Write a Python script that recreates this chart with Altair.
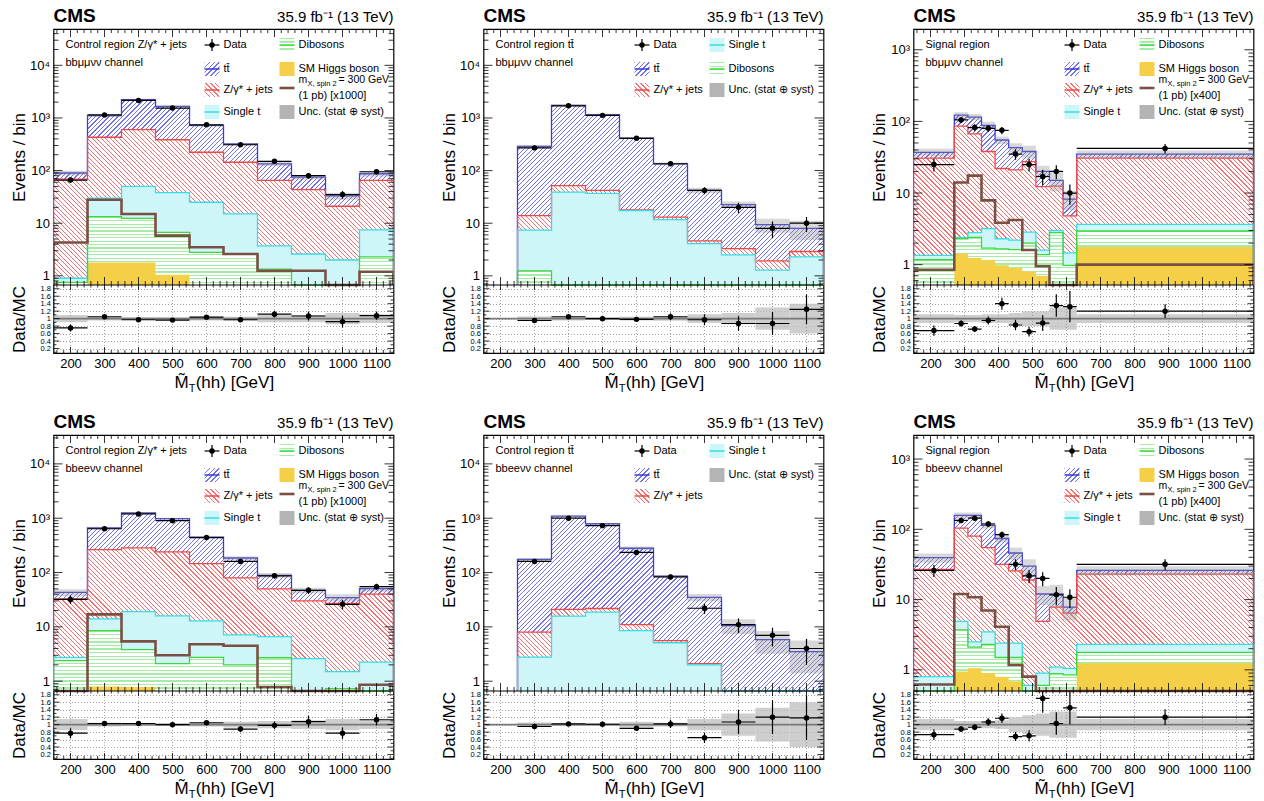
import altair as alt
import pandas as pd
import numpy as np

FONT = "Liberation Sans"
W, MH, RH = 340, 256, 68
H = MH + RH
FLOOR = 1e-4

# ---------------- binning / ticks ----------------
EDGES_CR = [150, 250, 350, 450, 550, 650, 750, 850, 950, 1050, 1150]
EDGES_TT = [250, 350, 450, 550, 650, 750, 850, 950, 1050, 1150]
EDGES_SR = [150, 270, 310, 350, 390, 430, 470, 510, 550, 590, 630, 1150]
X_TICKS = [200, 300, 400, 500, 600, 700, 800, 900, 1000, 1100]
RATIO_TICKS = [0.2, 0.4, 0.6, 0.8, 1.0, 1.2, 1.4, 1.6, 1.8]

# ---------------- panel 1: CR Z/gamma* + jets, bbmumununu (cumulative stack tops) ----------------
p1_tt = [90, 1110, 2230, 1660, 720, 320, 134, 75, 33, 87]
p1_z = [69, 430, 600, 385, 223, 144, 65, 43.6, 21, 65]
p1_st = [0.9, 30, 50, 38, 25, 15, 3.7, 2.6, 2.0, 7.5]
p1_vv = [0.75, 13.3, 12.4, 6.7, 2.8, 2.6, 1.34, 0.5, 0.5, 2.3]
p1_h = [0.3, 1.8, 1.8, 1.05, 0.5, 0.4, 0.3, 0.3, 0.2, 0.3]
p1_sig = [4.3, 28, 15, 5.8, 3.5, 2.6, 1.25, 1.25, 0.3, 1.2]
p1_data = [66, 1140, 2150, 1540, 740, 310, 150, 80, 35, 95]
p1_ratio = [0.75, 1.05, 0.97, 0.96, 1.04, 0.97, 1.12, 1.07, 0.92, 1.08]
p1_unc = [0.10, 0.05, 0.04, 0.04, 0.05, 0.05, 0.10, 0.10, 0.15, 0.12]

# ---------------- panel 2: CR ttbar, bbmumununu ----------------
p2_tt = [288, 1740, 1150, 415, 134, 42, 22.6, 9.4, 8]
p2_z = [14, 52, 42, 18, 13, 4.6, 3.3, 1.93, 2.9]
p2_st = [7.4, 39, 37, 17.4, 11.7, 4.1, 2.5, 1.28, 2.3]
p2_vv = [1.24, 0.4, 0.4, 0.3, 0.3, 0.2, 0.2, 0.2, 0.2]
p2_data = [270, 1700, 1120, 410, 135, 42, 20, 8, 10]
p2_ratio = [0.95, 1.05, 1.0, 0.98, 1.05, 0.97, 0.87, 0.87, 1.25]
p2_unc = [0.06, 0.05, 0.04, 0.05, 0.06, 0.12, 0.15, 0.30, 0.40]

# ---------------- panel 3: SR, bbmumununu ----------------
p3_tt = [37, 122, 115, 88, 55, 43, 38, 20, 15, 8.2, 35]
p3_z = [30.7, 86, 67, 38, 22, 21, 27.5, 12.3, 12.5, 4.8, 30.7]
p3_st = [1.35, 2.4, 2.8, 3.2, 2.3, 2.2, 2.85, 1.6, 3.0, 1.46, 3.65]
p3_vv = [1.17, 2.3, 2.4, 1.7, 1.66, 1.62, 2.0, 1.38, 2.8, 0.98, 2.95]
p3_h = [0.4, 1.43, 1.24, 1.15, 0.98, 0.9, 0.8, 0.7, 0.5, 0.45, 1.77]
p3_sig = [0.85, 14, 17.5, 7.9, 3.85, 4.2, 1.6, 0.95, 0.4, 0.3, 1.0]
p3_data = [25, 105, 82, 80, 75, 35, 25, 17, 20, 10, 42]
p3_ratio = [0.68, 0.87, 0.72, 0.95, 1.4, 0.83, 0.65, 0.88, 1.35, 1.32, 1.2]
p3_unc = [0.12, 0.10, 0.10, 0.12, 0.12, 0.15, 0.20, 0.20, 0.30, 0.30, 0.12]

# ---------------- panel 4: CR Z/gamma* + jets, bbeenunu ----------------
p4_tt = [43, 660, 1250, 980, 450, 185, 89, 47, 34.5, 50.6]
p4_z = [32.6, 265, 285, 240, 146, 80, 50, 30, 27, 40]
p4_st = [2.75, 14, 19, 15.9, 12.9, 7.1, 6.6, 2.6, 1.5, 2.25]
p4_vv = [2.4, 8.5, 3.8, 2.1, 2.75, 2.0, 2.7, 0.5, 0.73, 0.6]
p4_h = [0.3, 0.8, 0.78, 0.5, 0.4, 0.3, 0.3, 0.2, 0.2, 0.2]
p4_sig = [0.3, 17, 5.4, 3.0, 4.8, 4.5, 0.78, 0.3, 0.3, 0.86]
p4_data = [32, 640, 1200, 900, 440, 160, 87, 47, 26, 55]
p4_ratio = [0.77, 1.03, 1.03, 1.0, 1.05, 0.88, 0.98, 1.08, 0.77, 1.13]
p4_unc = [0.15, 0.05, 0.04, 0.04, 0.05, 0.08, 0.10, 0.12, 0.15, 0.12]

# ---------------- panel 5: CR ttbar, bbeenunu ----------------
p5_tt = [174, 1090, 790, 280, 86, 35, 10.6, 5.8, 3.5]
p5_z = [8, 21, 21.8, 11, 5.6, 2.1, 0.5, 0.4, 0.3]
p5_st = [2.77, 15.7, 18.6, 8.5, 5.1, 2.0, 0.5, 0.4, 0.3]
p5_data = [160, 1000, 730, 235, 83, 22, 11, 7, 4]
p5_ratio = [0.95, 1.02, 1.01, 0.9, 1.02, 0.65, 1.07, 1.2, 1.18]
p5_unc = [0.06, 0.03, 0.03, 0.08, 0.05, 0.15, 0.30, 0.45, 0.60]

# ---------------- panel 6: SR, bbeenunu ----------------
p6_tt = [39.5, 158, 158, 114, 74, 46, 30, 12, 12, 7.8, 26]
p6_z = [27, 104, 80, 55, 31.7, 25.7, 19, 4.9, 7.8, 6.4, 23]
p6_st = [0.8, 4.9, 2.5, 3.46, 2.4, 2.4, 0.6, 0.9, 1.09, 1.05, 2.3]
p6_vv = [0.45, 3.7, 2.1, 2.3, 1.5, 1.5, 0.45, 0.6, 0.88, 0.85, 1.77]
p6_h = [0.3, 0.95, 1.05, 0.9, 0.8, 0.69, 0.5, 0.35, 0.3, 0.3, 1.24]
p6_sig = [0.62, 12, 10.8, 7, 4.1, 1.17, 0.8, 0.4, 0.3, 0.3, 0.3]
p6_data = [26, 134, 144, 119, 84, 31.8, 21.8, 20, 11.7, 10.8, 31.8]
p6_ratio = [0.73, 0.88, 0.93, 1.07, 1.17, 0.68, 0.7, 1.7, 1.03, 1.45, 1.2]
p6_unc = [0.15, 0.10, 0.10, 0.10, 0.12, 0.20, 0.25, 0.30, 0.35, 0.35, 0.15]

# ---------------- styles ----------------
HATCH = {"tt": ("fwd", "#7272ea", 0.26), "z": ("bwd", "#f27474", 0.26), "vv": ("horiz", "#a6eca6", 0.35)}
FLAT = {"st": "#cef5f7", "h": "#f6cf48"}
LINE = {"tt": "#3a3ad8", "z": "#f04848", "st": "#35dde6", "vv": "#3cd83c"}
SIG = "#7a5044"
LBL = {"tt": "t\u0074\u0304", "z": "Z/\u03b3* + jets", "st": "Single t", "vv": "Dibosons",
       "h": "SM Higgs boson", "unc": "Unc. (stat \u2295 syst)"}

PANELS = [
    dict(edges=EDGES_CR, ydom=[0.67, 49000], yticks=[1, 10, 100, 1000, 10000],
         tt=p1_tt, z=p1_z, st=p1_st, vv=p1_vv, h=p1_h, sig=p1_sig, data=p1_data, ratio=p1_ratio, unc=p1_unc,
         region=["Control region Z/\u03b3* + jets", "bb\u03bc\u03bc\u03bd\u03bd channel"], legend="full", sigscale="1000"),
    dict(edges=EDGES_TT, ydom=[0.67, 49000], yticks=[1, 10, 100, 1000, 10000],
         tt=p2_tt, z=p2_z, st=p2_st, vv=p2_vv, data=p2_data, ratio=p2_ratio, unc=p2_unc,
         region=["Control region t\u0074\u0304", "bb\u03bc\u03bc\u03bd\u03bd channel"], legend="ttmm"),
    dict(edges=EDGES_SR, ydom=[0.52, 1950], yticks=[1, 10, 100, 1000],
         tt=p3_tt, z=p3_z, st=p3_st, vv=p3_vv, h=p3_h, sig=p3_sig, data=p3_data, ratio=p3_ratio, unc=p3_unc,
         region=["Signal region", "bb\u03bc\u03bc\u03bd\u03bd channel"], legend="full", sigscale="400"),
    dict(edges=EDGES_CR, ydom=[0.66, 34000], yticks=[1, 10, 100, 1000, 10000],
         tt=p4_tt, z=p4_z, st=p4_st, vv=p4_vv, h=p4_h, sig=p4_sig, data=p4_data, ratio=p4_ratio, unc=p4_unc,
         region=["Control region Z/\u03b3* + jets", "bbee\u03bd\u03bd channel"], legend="full", sigscale="1000"),
    dict(edges=EDGES_TT, ydom=[0.66, 34000], yticks=[1, 10, 100, 1000, 10000],
         tt=p5_tt, z=p5_z, st=p5_st, data=p5_data, ratio=p5_ratio, unc=p5_unc,
         region=["Control region t\u0074\u0304", "bbee\u03bd\u03bd channel"], legend="ttee"),
    dict(edges=EDGES_SR, ydom=[0.5, 2200], yticks=[1, 10, 100, 1000],
         tt=p6_tt, z=p6_z, st=p6_st, vv=p6_vv, h=p6_h, sig=p6_sig, data=p6_data, ratio=p6_ratio, unc=p6_unc,
         region=["Signal region", "bbee\u03bd\u03bd channel"], legend="full", sigscale="400"),
]

LEGENDS = {
    "full": [(1, 16, "data"), (1, 40, "tt"), (1, 61, "z"), (1, 83, "st"),
             (2, 16, "vv"), (2, 40, "h"), (2, 59, "sig"), (2, 83, "unc")],
    "ttmm": [(1, 16, "data"), (1, 40, "tt"), (1, 61, "z"), (2, 16, "st"), (2, 40, "vv"), (2, 61, "unc")],
    "ttee": [(1, 16, "data"), (1, 40, "tt"), (1, 61, "z"), (2, 16, "st"), (2, 40, "unc")],
}

LOG_EXPR = ("datum.value == 1 ? '1' : datum.value == 10 ? '10' : datum.value == 100 ? '10\u00b2' : "
            "datum.value == 1000 ? '10\u00b3' : '10\u2074'")

XS = alt.Scale(domain=[150, 1150], nice=False, zero=False)
XAX = alt.Axis(values=X_TICKS, format="d", labelFont=FONT, labelFontSize=13, labelColor="black",
               labelPadding=4, ticks=False, domain=False, grid=False, title=None, labelOverlap=False,
               orient="bottom")

ONE = pd.DataFrame({"k": [0]})
LEG_FS = 11


def hatch(wpx, hpx, kind, line, frac, period=4.5, bg="#ffffff"):
    """Striped linear gradient (in the mark's bounding box) imitating ROOT fill hatches."""
    wpx = max(float(wpx), 1.0)
    hpx = max(float(hpx), 1.0)
    if kind == "horiz":
        n = max(2, int(round(hpx / 3.5)))
        x1, y1, x2, y2 = 0.0, 0.0, 0.0, 1.0
    else:
        n = max(2, int(round((wpx + hpx) / period)))
        k = (wpx + hpx) / (wpx ** 2 + hpx ** 2)
        if kind == "fwd":
            x1, y1, x2, y2 = 0.0, 0.0, k * wpx, k * hpx
        else:
            x1, y1, x2, y2 = 0.0, 1.0, k * wpx, 1.0 - k * hpx
    stops = []
    for i in range(n):
        a = round(i / n, 5)
        b = round((i + frac) / n, 5)
        c2 = round((i + 1) / n, 5)
        stops += [alt.GradientStop(offset=a, color=line), alt.GradientStop(offset=b, color=line),
                  alt.GradientStop(offset=b, color=bg), alt.GradientStop(offset=c2, color=bg)]
    return alt.LinearGradient(gradient="linear", stops=stops, x1=round(x1, 5), y1=round(y1, 5),
                              x2=round(x2, 5), y2=round(y2, 5))


def fill_for(kind, wpx, hpx):
    if kind in HATCH:
        kd, col, fr = HATCH[kind]
        return hatch(wpx, hpx, kd, col, fr)
    return FLAT[kind]


def txt(s, x, y, size, align="left", weight="normal", baseline="middle"):
    return alt.Chart(ONE).mark_text(text=s, font=FONT, fontSize=size, align=align, baseline=baseline,
                                    fontWeight=weight, color="black").encode(x=alt.value(x), y=alt.value(y))


def box(x0, x1, y0, y1, fill, opacity=1.0):
    return alt.Chart(ONE).mark_rect(fill=fill, opacity=opacity).encode(
        x=alt.value(x0), x2=alt.value(x1), y=alt.value(y0), y2=alt.value(y1))


def seg(x0, x1, y0, y1, color, width):
    return alt.Chart(ONE).mark_rule(color=color, strokeWidth=width).encode(
        x=alt.value(x0), x2=alt.value(x1), y=alt.value(y0), y2=alt.value(y1))


def dot(x, y):
    return alt.Chart(ONE).mark_point(filled=True, color="black", opacity=1, size=30).encode(
        x=alt.value(x), y=alt.value(y))


def legend_layers(entries, sigscale):
    L = []
    for col, yc, kind in entries:
        x0 = 151 if col == 1 else 226
        x1 = x0 + 15
        tx = x1 + 4
        if kind == "data":
            L += [seg(x0, x1, yc, yc, "black", 1.2), seg((x0 + x1) / 2, (x0 + x1) / 2, yc - 6, yc + 6, "black", 1.2),
                  dot((x0 + x1) / 2, yc), txt("Data", tx, yc, LEG_FS)]
        elif kind in ("tt", "z", "st", "vv"):
            L += [box(x0, x1, yc - 7, yc + 7, fill_for(kind, 15, 14)), seg(x0, x1, yc, yc, LINE[kind], 1.5),
                  txt(LBL[kind], tx, yc, LEG_FS)]
        elif kind == "h":
            L += [box(x0, x1, yc - 7, yc + 7, FLAT["h"]), txt(LBL["h"], tx, yc, LEG_FS)]
        elif kind == "unc":
            L += [box(x0, x1, yc - 7, yc + 7, "#b4b4b4"), txt(LBL["unc"], tx, yc, LEG_FS)]
        elif kind == "sig":
            L += [seg(x0, x1, yc, yc, SIG, 2.6),
                  txt("m", tx, yc - 8, 10.5),
                  txt("X, spin 2", tx + 9, yc - 4.5, 7.5),
                  txt("= 300 GeV", tx + 40, yc - 8, 10.5),
                  txt("(1 pb) [x" + sigscale + "]", tx, yc + 8, LEG_FS)]
    return L


def log_ticks(dom):
    maj, mnr = [], []
    for e in range(-1, 6):
        for k in range(1, 10):
            v = k * 10.0 ** e
            if dom[0] <= v <= dom[1]:
                (maj if k == 1 else mnr).append(v)
    return maj, mnr


def make_panel(p):
    edges = p["edges"]
    lo, hi = edges[:-1], edges[1:]
    dom = p["ydom"]
    YM = alt.Scale(type="log", domain=dom, range=[MH, 0], clamp=True, nice=False)
    YR = alt.Scale(domain=[0.08, 1.9], range=[H, MH], clamp=True, nice=False, zero=False)

    def ypx(v):
        v = min(max(v, dom[0]), dom[1])
        return MH * (np.log(dom[1]) - np.log(v)) / (np.log(dom[1]) - np.log(dom[0]))

    def XF(f):
        return alt.X(f, type="quantitative", scale=XS, axis=XAX)

    def YMf(f, axis=None):
        return alt.Y(f, type="quantitative", scale=YM, axis=axis)

    def YRf(f, axis=None):
        return alt.Y(f, type="quantitative", scale=YR, axis=axis)

    main_axis = alt.Axis(values=p["yticks"], labelExpr=LOG_EXPR, title="Events / bin", labelFont=FONT,
                         labelFontSize=13, labelColor="black", labelPadding=4, ticks=False, domain=False,
                         grid=False, titleFont=FONT, titleFontSize=17, titleFontWeight="normal",
                         titleColor="black", titleX=-34, titleY=MH / 2, titleBaseline="middle",
                         labelOverlap=False, orient="left")
    ratio_axis = alt.Axis(values=RATIO_TICKS, format=".1~f", title="Data/MC", labelFont=FONT,
                          labelFontSize=7.5, labelColor="black", labelPadding=3, ticks=False, domain=False,
                          grid=True, gridDash=[1, 2], gridColor="#8a8a8a", gridWidth=0.8,
                          titleFont=FONT, titleFontSize=17, titleFontWeight="normal", titleColor="black",
                          titleX=-34, titleY=MH + RH / 2, titleBaseline="middle", labelOverlap=False,
                          orient="left")

    layers = []
    d = np.array(p["data"], dtype=float)
    c = (np.array(lo) + np.array(hi)) / 2.0
    r = np.array(p["ratio"], dtype=float)
    u = np.array(p["unc"], dtype=float)
    dfr = pd.DataFrame({"lo": lo, "hi": hi, "c": c, "a": 1 - u, "b": 1 + u, "r": r,
                        "rl": r - r / np.sqrt(d), "rh": r + r / np.sqrt(d)})
    # ratio pad: uncertainty band, grid, unity line
    layers.append(alt.Chart(dfr).mark_rect(color="#bdbdbd", opacity=0.75, clip=True).encode(
        x=XF("lo"), x2="hi", y=YRf("a:Q", ratio_axis), y2="b"))
    layers.append(alt.Chart(pd.DataFrame({"x": X_TICKS})).mark_rule(
        color="#8a8a8a", strokeDash=[1, 2], strokeWidth=0.8).encode(x=XF("x"), y=alt.value(MH), y2=alt.value(H)))
    layers.append(alt.Chart(pd.DataFrame({"v": [1.0]})).mark_rule(color="#7a7a7a", strokeWidth=1.6).encode(
        y=YRf("v:Q"), x=alt.value(0), x2=alt.value(W)))

    # stacked histogram fills (cumulative tops drawn from the total downward)
    wpx = (hi[-1] - lo[0]) * W / 1000.0
    for k in [k for k in ["tt", "z", "st", "vv", "h"] if k in p]:
        vals = list(p[k])
        hpx = MH - min(ypx(v) for v in vals)
        df = pd.DataFrame({"x": list(lo) + [hi[-1]], "v": vals + [vals[-1]]})
        layers.append(alt.Chart(df).mark_area(interpolate="step-after", fill=fill_for(k, wpx, hpx),
                                              clip=True).encode(
            x=XF("x"), y=YMf("v:Q", main_axis if k == "tt" else None), y2=alt.value(MH)))

    def step_df(vals):
        vals = list(vals)
        xs = [lo[0]] + list(lo) + [hi[-1], hi[-1]]
        ys = [FLOOR] + vals + [vals[-1], FLOOR]
        return pd.DataFrame({"i": range(len(xs)), "x": xs, "v": ys})

    for k in ["tt", "z", "st", "vv"]:
        if k in p:
            layers.append(alt.Chart(step_df(p[k])).mark_line(
                interpolate="step-after", color=LINE[k], strokeWidth=1.3, clip=True).encode(
                x=XF("x"), y=YMf("v:Q"), order="i:Q"))

    # uncertainty band on total
    tot = np.array(p["tt"], dtype=float)
    dfu = pd.DataFrame({"lo": lo, "hi": hi, "a": tot * (1 - u), "b": tot * (1 + u)})
    layers.append(alt.Chart(dfu).mark_rect(color="#8f8f8f", opacity=0.35, clip=True).encode(
        x=XF("lo"), x2="hi", y=YMf("a:Q"), y2="b"))

    # signal
    if "sig" in p:
        layers.append(alt.Chart(step_df(p["sig"])).mark_line(
            interpolate="step-after", color=SIG, strokeWidth=2.6, clip=True).encode(
            x=XF("x"), y=YMf("v:Q"), order="i:Q"))

    # data points
    e = np.sqrt(d)
    dfd = pd.DataFrame({"lo": lo, "hi": hi, "c": c, "d": d, "dl": d - e, "dh": d + e})
    layers += [
        alt.Chart(dfd).mark_rule(color="black", strokeWidth=1.2, clip=True).encode(x=XF("lo"), x2="hi", y=YMf("d:Q")),
        alt.Chart(dfd).mark_rule(color="black", strokeWidth=1.2, clip=True).encode(x=XF("c"), y=YMf("dl:Q"), y2="dh"),
        alt.Chart(dfd).mark_point(filled=True, color="black", opacity=1, size=30).encode(x=XF("c"), y=YMf("d:Q")),
    ]

    # ratio data points
    layers += [
        alt.Chart(dfr).mark_rule(color="black", strokeWidth=1.2, clip=True).encode(x=XF("lo"), x2="hi", y=YRf("r:Q")),
        alt.Chart(dfr).mark_rule(color="black", strokeWidth=1.2, clip=True).encode(x=XF("c"), y=YRf("rl:Q"), y2="rh"),
        alt.Chart(dfr).mark_point(filled=True, color="black", opacity=1, size=30).encode(x=XF("c"), y=YRf("r:Q")),
    ]

    # pad separator
    layers.append(seg(0, W, MH, MH, "black", 1.2))

    # inward ticks on x (all four pad edges)
    xmin = [v for v in range(160, 1150, 20) if v % 100 != 0]
    rows = []
    for v in X_TICKS:
        rows += [(v, MH, MH - 8), (v, 0, 8), (v, H, H - 6), (v, MH, MH + 5)]
    for v in xmin:
        rows += [(v, MH, MH - 4), (v, 0, 4), (v, H, H - 3), (v, MH, MH + 2.5)]
    dft = pd.DataFrame(rows, columns=["x", "y0", "y1"])
    layers.append(alt.Chart(dft).mark_rule(color="black", strokeWidth=0.8).encode(
        x=XF("x"), y=alt.Y("y0:Q", scale=None, axis=None), y2="y1"))

    # inward ticks on y (main, log)
    maj, mnr = log_ticks(dom)
    for vals, ln in ((maj, 9), (mnr, 5)):
        dfy = pd.DataFrame({"v": vals})
        layers.append(alt.Chart(dfy).mark_rule(color="black", strokeWidth=0.8).encode(
            y=YMf("v:Q"), x=alt.value(0), x2=alt.value(ln)))
        layers.append(alt.Chart(dfy).mark_rule(color="black", strokeWidth=0.8).encode(
            y=YMf("v:Q"), x=alt.value(W - ln), x2=alt.value(W)))
    # inward ticks on y (ratio)
    rmin = [0.1, 0.3, 0.5, 0.7, 0.9, 1.1, 1.3, 1.5, 1.7]
    for vals, ln in ((RATIO_TICKS, 6), (rmin, 3)):
        dfy = pd.DataFrame({"v": vals})
        layers.append(alt.Chart(dfy).mark_rule(color="black", strokeWidth=0.8).encode(
            y=YRf("v:Q"), x=alt.value(0), x2=alt.value(ln)))
        layers.append(alt.Chart(dfy).mark_rule(color="black", strokeWidth=0.8).encode(
            y=YRf("v:Q"), x=alt.value(W - ln), x2=alt.value(W)))

    # header texts
    layers.append(txt("CMS", 0, -7, 19, weight="bold", baseline="alphabetic"))
    layers.append(txt("35.9 fb\u207b\u00b9 (13 TeV)", W, -7, 15, align="right", baseline="alphabetic"))
    layers.append(txt(p["region"][0], 12, 16, 11))
    layers.append(txt(p["region"][1], 12, 34, 11))

    # legend
    layers += legend_layers(LEGENDS[p["legend"]], p.get("sigscale", ""))

    # x-axis title composed of pieces (tilde M with subscript T)
    x0 = 121
    layers.append(txt("M\u0303", x0, H + 35, 17, baseline="alphabetic"))
    layers.append(txt("T", x0 + 14.2, H + 39, 11, baseline="alphabetic"))
    layers.append(txt("(hh) [GeV]", x0 + 14.2 + 7, H + 35, 17, baseline="alphabetic"))

    return alt.layer(*layers).resolve_scale(y="independent").properties(width=W, height=H)


panels = [make_panel(p) for p in PANELS]

chart = alt.concat(*panels, columns=3, spacing={"row": 82, "column": 90}, bounds="flush").properties(
    padding={"left": 9.5, "top": 6, "right": 6, "bottom": 1}, background="white"
).configure_view(stroke="black", strokeWidth=1.2)

chart.save("out.html", embed_options={"renderer": "svg", "actions": False})
